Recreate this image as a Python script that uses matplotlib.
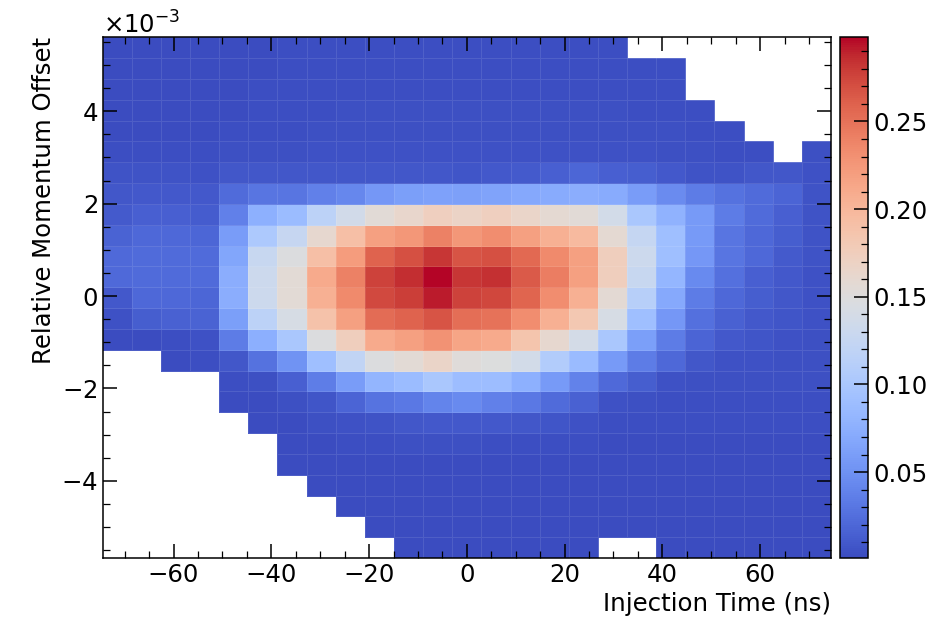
import numpy as np
import matplotlib
matplotlib.use("Agg")
import matplotlib.pyplot as plt
from matplotlib.ticker import MultipleLocator, ScalarFormatter

N = np.nan

# Bin ranges (x in ns, y relative momentum offset)
x_range = (-74.5, 74.5)
y_range = (-5.67e-3, 5.60e-3)
n_x_bins = 25
n_y_bins = 25

# Cell values, rows listed from TOP (highest momentum) to BOTTOM
rows_top_to_bottom = [
    [.002,.002,.002,.002,.002,.002,.003,.003,.003,.003,.003,.003,.003,.003,.003,.003,.003,.003,N,N,N,N,N,N,N],
    [.002,.002,.002,.002,.002,.002,.003,.003,.003,.003,.003,.003,.003,.003,.003,.003,.003,.003,.003,.003,N,N,N,N,N],
    [.002,.002,.002,.002,.002,.003,.003,.003,.003,.003,.003,.003,.003,.003,.003,.003,.003,.003,.003,.003,N,N,N,N,N],
    [.002,.002,.002,.002,.002,.003,.003,.003,.004,.004,.004,.004,.004,.004,.004,.004,.004,.004,.003,.003,.003,N,N,N,N],
    [.002,.002,.002,.002,.003,.003,.003,.004,.004,.004,.004,.004,.004,.004,.004,.004,.004,.004,.004,.004,.003,.003,N,N,N],
    [.003,.003,.003,.003,.004,.004,.004,.005,.005,.005,.005,.005,.005,.005,.005,.005,.005,.005,.005,.004,.004,.003,.003,N,.004],
    [.006,.006,.006,.005,.008,.008,.008,.009,.009,.009,.008,.008,.007,.010,.011,.014,.019,.014,.013,.010,.006,.006,.008,.008,.005],
    [.009,.010,.010,.010,.023,.030,.030,.038,.042,.055,.061,.063,.062,.064,.069,.071,.074,.071,.058,.046,.034,.027,.022,.018,.006],
    [.011,.014,.014,.012,.037,.076,.087,.116,.136,.155,.163,.173,.168,.173,.165,.158,.155,.137,.100,.078,.057,.034,.022,.014,.006],
    [.017,.020,.020,.019,.058,.103,.126,.161,.192,.219,.226,.240,.226,.232,.219,.206,.197,.158,.125,.091,.057,.030,.020,.013,.006],
    [.021,.023,.023,.022,.066,.127,.148,.192,.222,.259,.270,.282,.267,.269,.256,.235,.219,.174,.131,.091,.055,.030,.020,.011,.006],
    [.021,.023,.023,.022,.074,.131,.156,.210,.240,.277,.286,.298,.282,.285,.264,.243,.219,.174,.127,.082,.045,.026,.014,.010,.005],
    [.010,.020,.020,.019,.074,.131,.156,.206,.235,.273,.279,.292,.277,.274,.258,.233,.206,.157,.112,.070,.034,.020,.013,.009,.005],
    [.005,.013,.015,.017,.061,.116,.142,.188,.219,.253,.259,.267,.252,.250,.232,.206,.182,.142,.091,.055,.026,.015,.010,.007,.005],
    [.001,.002,.003,.005,.034,.075,.100,.148,.174,.210,.219,.229,.215,.210,.186,.160,.139,.100,.061,.034,.018,.010,.007,.005,.004],
    [N,N,.002,.003,.009,.027,.051,.091,.121,.148,.156,.166,.152,.149,.137,.107,.086,.057,.034,.020,.009,.005,.005,.004,.004],
    [N,N,N,N,.003,.004,.014,.035,.059,.080,.088,.100,.089,.089,.076,.057,.039,.021,.013,.005,.004,.004,.004,.004,.004],
    [N,N,N,N,.002,.002,.004,.007,.018,.028,.032,.040,.044,.038,.032,.023,.016,.005,.004,.003,.003,.003,.003,.003,.003],
    [N,N,N,N,N,.001,.002,.004,.005,.006,.008,.010,.010,.010,.009,.007,.005,.003,.003,.003,.003,.003,.003,.003,.003],
    [N,N,N,N,N,N,.002,.002,.003,.003,.004,.004,.004,.003,.003,.003,.003,.002,.002,.002,.002,.002,.002,.002,.002],
    [N,N,N,N,N,N,.002,.002,.002,.002,.002,.002,.002,.002,.002,.002,.002,.002,.002,.002,.002,.002,.002,.002,.002],
    [N,N,N,N,N,N,N,.002,.002,.002,.002,.002,.002,.002,.002,.002,.002,.002,.002,.002,.002,.002,.002,.002,.002],
    [N,N,N,N,N,N,N,N,.002,.002,.002,.002,.002,.002,.002,.002,.002,.002,.002,.002,.002,.002,.002,.002,.002],
    [N,N,N,N,N,N,N,N,N,.001,.001,.001,.001,.001,.001,.001,.001,.001,.001,.001,.001,.001,.001,.001,.001],
    [N,N,N,N,N,N,N,N,N,N,.001,.001,.001,.001,.001,.001,.001,N,N,.001,.001,.001,.001,.001,.001],
]

x_label = "Injection Time (ns)"
y_label = "Relative Momentum Offset"
cbar_ticks = [0.05, 0.10, 0.15, 0.20, 0.25]

Z = np.ma.masked_invalid(np.flipud(np.array(rows_top_to_bottom, dtype=float)))
x_edges = np.linspace(x_range[0], x_range[1], n_x_bins + 1)
y_edges = np.linspace(y_range[0], y_range[1], n_y_bins + 1)

plt.rcParams['font.family'] = ['DejaVu Sans']
fig = plt.figure(figsize=(9.33, 6.21), dpi=100)
W, H = 933, 621
ax = fig.add_axes([102.7 / W, 1 - 558 / H, (831 - 102.7) / W, (558 - 37.3) / H])
cax = fig.add_axes([839.5 / W, 1 - 558 / H, 29 / W, (558 - 37.3) / H])

mesh = ax.pcolormesh(x_edges, y_edges, Z, cmap='coolwarm',
                     edgecolors=(1, 1, 1, 0.10), linewidth=0.5)
ax.set_xlim(x_range)
ax.set_ylim(y_range)

fs = 17.6
ax.set_xlabel(x_label, fontsize=fs, loc='right')
ax.set_ylabel(y_label, fontsize=fs, loc='top')

ax.xaxis.set_major_locator(MultipleLocator(20))
ax.xaxis.set_minor_locator(MultipleLocator(5))
ax.yaxis.set_major_locator(MultipleLocator(2e-3))
ax.yaxis.set_minor_locator(MultipleLocator(0.5e-3))
fmt = ScalarFormatter(useMathText=True)
fmt.set_powerlimits((-2, 2))
ax.yaxis.set_major_formatter(fmt)
ax.yaxis.get_offset_text().set_fontsize(fs)

ax.tick_params(which='both', direction='in', top=True, right=True, labelsize=fs)
ax.tick_params(which='major', length=10, width=1.1)
ax.tick_params(which='minor', length=5, width=0.9)
for s in ax.spines.values():
    s.set_linewidth(1.1)

cb = fig.colorbar(mesh, cax=cax)
cb.set_ticks(cbar_ticks)
cb.ax.yaxis.set_minor_locator(MultipleLocator(0.01))
cb.ax.tick_params(which='both', direction='in', labelsize=fs)
cb.ax.tick_params(which='major', length=10, width=1.1)
cb.ax.tick_params(which='minor', length=5, width=0.9)
cb.outline.set_linewidth(1.1)

fig.savefig("out.png", dpi=100)
